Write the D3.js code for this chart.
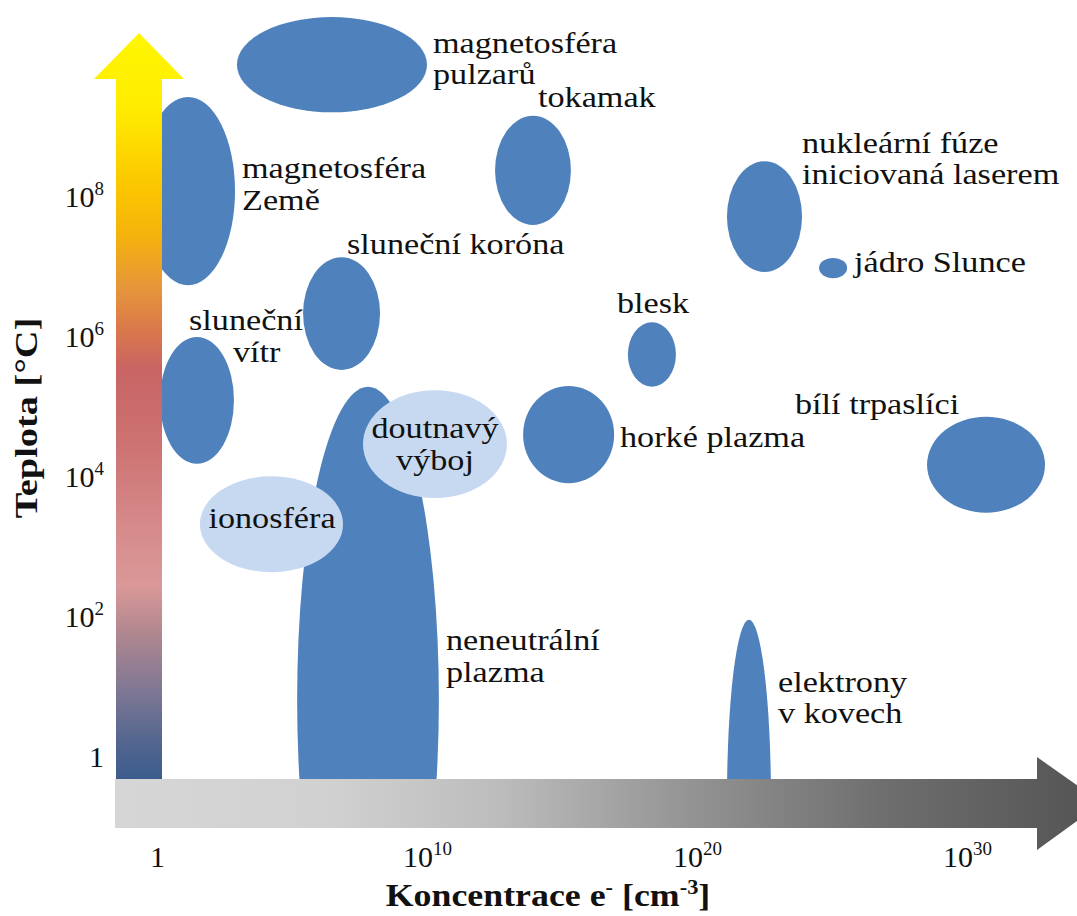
<!DOCTYPE html>
<html>
<head>
<meta charset="utf-8">
<script src="https://cdn.jsdelivr.net/npm/d3@7"></script>
<style>
  html, body { margin: 0; padding: 0; background: #ffffff; }
  svg { display: block; }
  text { font-family: "Liberation Serif", "DejaVu Serif", serif; fill: #111; }
</style>
</head>
<body>
<div id="chart"></div>
<script>
// ---------------- DATA (log10 exponents) ----------------
const regimes = [
  "magnetosféra pulzarů", "magnetosféra Země", "tokamak", "nukleární fúze",
  "jádro Slunce", "sluneční koróna", "sluneční vítr", "neneutrální plazma",
  "doutnavý výboj", "ionosféra", "blesk", "horké plazma",
  "bílí trpaslíci", "elektrony v kovech"
];
// electron concentration range, log10(cm^-3)
const nMin = [2.96, -0.59, 12.52, 21.11, 24.52, 5.41, 0.11, 5.19, 7.63, 1.59, 17.44, 13.56, 28.52, 21.11];
const nMax = [10.0, 2.89, 15.33, 23.89, 25.56, 8.26, 2.85, 10.44, 12.96, 6.89, 19.22, 16.93, 32.89, 22.74];
// temperature range, log10(°C)
const tMin = [9.21, 6.74, 7.60, 6.93, 6.84, 5.53, 4.19, -3.66, 3.70, 2.64, 5.29, 3.91, 3.49, -3.19];
const tMax = [10.57, 9.43, 9.16, 8.51, 7.13, 7.14, 6.00, 5.29, 5.24, 4.01, 6.21, 5.30, 4.86, 1.96];
// regimes drawn as light overlays
const lightRegimes = ["doutnavý výboj", "ionosféra"];
// label lines
const labelLines = {
  "magnetosféra pulzarů": ["magnetosféra", "pulzarů"],
  "magnetosféra Země": ["magnetosféra", "Země"],
  "tokamak": ["tokamak"],
  "nukleární fúze": ["nukleární fúze", "iniciovaná laserem"],
  "jádro Slunce": ["jádro Slunce"],
  "sluneční koróna": ["sluneční koróna"],
  "sluneční vítr": ["sluneční", "vítr"],
  "neneutrální plazma": ["neneutrální", "plazma"],
  "doutnavý výboj": ["doutnavý", "výboj"],
  "ionosféra": ["ionosféra"],
  "blesk": ["blesk"],
  "horké plazma": ["horké plazma"],
  "bílí trpaslíci": ["bílí trpaslíci"],
  "elektrony v kovech": ["elektrony", "v kovech"]
};
const xTicks = [0, 10, 20, 30];
const yTicks = [0, 2, 4, 6, 8];
const xTitle = ["Koncentrace e", "-", " [cm", "-3", "]"];
const yTitle = "Teplota [°C]";

// ---------------- LAYOUT ----------------
const W = 1077, H = 916;
const SERIF = "Liberation Serif, DejaVu Serif, serif";
const STRETCH = 1.14; // widen Times-like glyphs toward Computer Modern proportions
const labelLayout = {
  "magnetosféra pulzarů": { x: [433, 433], y: [53, 84], anchor: "start" },
  "magnetosféra Země": { x: [242, 242], y: [178, 210], anchor: "start" },
  "tokamak": { x: [538], y: [107], anchor: "start" },
  "nukleární fúze": { x: [802, 802], y: [153, 184], anchor: "start" },
  "jádro Slunce": { x: [854], y: [272], anchor: "start" },
  "sluneční koróna": { x: [347], y: [254], anchor: "start" },
  "sluneční vítr": { x: [189, 233], y: [330, 362], anchor: "start" },
  "neneutrální plazma": { x: [446, 446], y: [650, 682], anchor: "start" },
  "doutnavý výboj": { x: [435, 435], y: [438, 470], anchor: "middle" },
  "ionosféra": { x: [272], y: [528], anchor: "middle" },
  "blesk": { x: [617], y: [313], anchor: "start" },
  "horké plazma": { x: [620], y: [447], anchor: "start" },
  "bílí trpaslíci": { x: [795], y: [414], anchor: "start" },
  "elektrony v kovech": { x: [778, 778], y: [692, 723], anchor: "start" }
};

const svg = d3.select("#chart").append("svg")
  .attr("width", W).attr("height", H).attr("viewBox", `0 0 ${W} ${H}`);

const x = d3.scaleLinear().domain([0, 30]).range([157, 967]);
const y = d3.scaleLinear().domain([0, 8]).range([757, 197]);

const defs = svg.append("defs");
// vertical arrow gradient
const vg = defs.append("linearGradient").attr("id", "vgrad")
  .attr("gradientUnits", "userSpaceOnUse")
  .attr("x1", 0).attr("y1", 33).attr("x2", 0).attr("y2", 780);
[
  [0.00, "#fff700"], [0.10, "#ffec00"], [0.20, "#fcc800"], [0.27, "#f5b30c"],
  [0.34, "#e6963a"], [0.40, "#d9774c"], [0.45, "#c86464"], [0.55, "#cd7272"],
  [0.66, "#d68a8a"], [0.74, "#da9898"], [0.80, "#b2888f"], [0.88, "#7f7794"],
  [0.95, "#52668f"], [1.00, "#3b5b8c"]
].forEach(([o, c]) => vg.append("stop").attr("offset", o).attr("stop-color", c));

const hg = defs.append("linearGradient").attr("id", "hgrad")
  .attr("gradientUnits", "userSpaceOnUse")
  .attr("x1", 115).attr("y1", 0).attr("x2", 1077).attr("y2", 0);
[
  [0.00, "#d6d6d6"], [0.22, "#d1d1d1"], [0.40, "#bcbcbc"], [0.60, "#939393"],
  [0.80, "#6e6e6e"], [1.00, "#565656"]
].forEach(([o, c]) => hg.append("stop").attr("offset", o).attr("stop-color", c));

defs.append("clipPath").attr("id", "plotclip")
  .append("rect").attr("x", 0).attr("y", 0).attr("width", W).attr("height", 779);

// ---------------- ELLIPSES ----------------
const data = regimes.map((name, i) => ({
  name, n0: nMin[i], n1: nMax[i], t0: tMin[i], t1: tMax[i],
  light: lightRegimes.includes(name)
}));

const plot = svg.append("g").attr("clip-path", "url(#plotclip)");
const ordered = data.filter(d => !d.light).concat(data.filter(d => d.light));
plot.selectAll("ellipse").data(ordered).join("ellipse")
  .attr("cx", d => (x(d.n0) + x(d.n1)) / 2)
  .attr("cy", d => (y(d.t0) + y(d.t1)) / 2)
  .attr("rx", d => Math.abs(x(d.n1) - x(d.n0)) / 2)
  .attr("ry", d => Math.abs(y(d.t0) - y(d.t1)) / 2)
  .attr("fill", d => d.light ? "#c6d9f0" : "#4f81bd");

// ---------------- ARROWS ----------------
svg.append("path")
  .attr("d", "M116,780 L116,79 L94,79 L139,33 L184,79 L162,79 L162,780 Z")
  .attr("fill", "url(#vgrad)");
svg.append("path")
  .attr("d", "M115,779 L1037,779 L1037,757 L1102,803 L1037,850 L1037,828 L115,828 Z")
  .attr("fill", "url(#hgrad)");

// ---------------- AXES ----------------
function supLabel(sel, e, supSize) {
  sel.text(null);
  if (e === 0) {
    sel.append("tspan").text("1");
  } else {
    sel.append("tspan").text("10");
    sel.append("tspan").attr("font-size", supSize).attr("dy", -12).text(String(e));
  }
}

const xAxis = svg.append("g").attr("transform", "translate(0,779)")
  .call(d3.axisBottom(x).tickValues(xTicks).tickSize(0).tickPadding(0));
xAxis.select(".domain").remove();
xAxis.attr("font-family", SERIF);
xAxis.selectAll(".tick text")
  .attr("font-family", SERIF).attr("font-size", 30)
  .attr("fill", "#111").attr("y", 88).attr("dy", 0)
  .each(function (d) { supLabel(d3.select(this), d, 19); });

const yAxis = svg.append("g").attr("transform", "translate(104,0)")
  .call(d3.axisLeft(y).tickValues(yTicks).tickSize(0).tickPadding(0));
yAxis.select(".domain").remove();
yAxis.attr("font-family", SERIF);
yAxis.selectAll(".tick text")
  .attr("font-family", SERIF).attr("font-size", 30)
  .attr("fill", "#111").attr("x", 0).attr("dy", 9).attr("text-anchor", "end")
  .each(function (d) { supLabel(d3.select(this), d, 19); });

// axis titles
const xt = svg.append("text")
  .attr("transform", "translate(548,906) scale(1.12,1)")
  .attr("font-family", SERIF)
  .attr("text-anchor", "middle").attr("font-weight", "bold").attr("font-size", 32);
xt.append("tspan").text(xTitle[0]);
xt.append("tspan").attr("font-size", 20).attr("dy", -12).text(xTitle[1]);
xt.append("tspan").attr("dy", 12).text(xTitle[2]);
xt.append("tspan").attr("font-size", 20).attr("dy", -12).text(xTitle[3]);
xt.append("tspan").attr("dy", 12).text(xTitle[4]);

svg.append("text")
  .attr("transform", "translate(37,418) rotate(-90) scale(1.2,1)")
  .attr("font-family", SERIF)
  .attr("text-anchor", "middle").attr("font-weight", "bold").attr("font-size", 32)
  .text(yTitle);

// ---------------- LABELS ----------------
const labels = svg.append("g").attr("font-size", 30).attr("font-family", SERIF);
regimes.forEach(name => {
  const lay = labelLayout[name];
  labelLines[name].forEach((line, j) => {
    labels.append("text")
      .attr("transform", `translate(${lay.x[j]},${lay.y[j]}) scale(${STRETCH},1)`)
      .attr("font-family", SERIF)
      .attr("text-anchor", lay.anchor)
      .text(line);
  });
});
</script>
</body>
</html>
